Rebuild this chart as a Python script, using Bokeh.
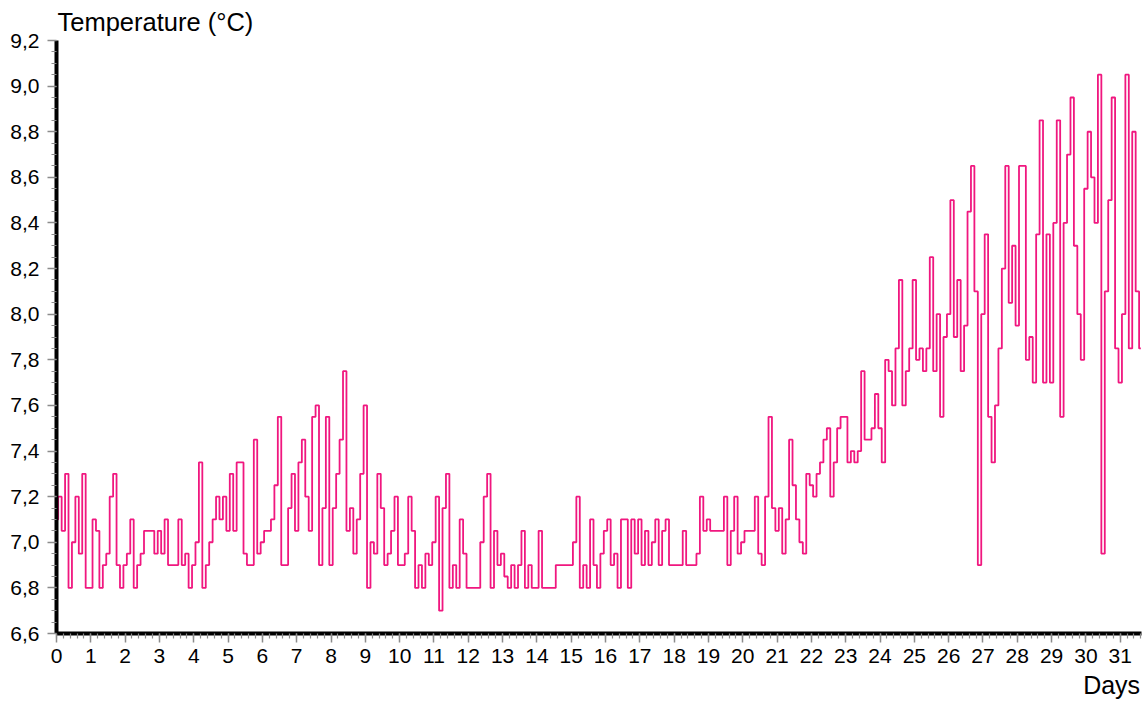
from bokeh.plotting import figure
from bokeh.models import FixedTicker, CustomJSTickFormatter, LinearAxis, Range1d
from bokeh.embed import file_html
from bokeh.resources import INLINE

STEPS_PER_DAY = 10

temps_days_00_07 = [
    7.1, 7.2, 7.05, 7.3, 6.8, 7.0, 7.2, 6.95, 7.3, 6.8,
    6.8, 7.1, 7.05, 6.8, 6.9, 6.95, 7.2, 7.3, 6.9, 6.8,
    6.9, 6.95, 7.1, 6.8, 6.9, 6.95, 7.05, 7.05, 7.05, 6.95,
    7.05, 6.95, 7.1, 6.9, 6.9, 6.9, 7.1, 6.9, 6.95, 6.8,
    6.9, 7.0, 7.35, 6.8, 6.9, 7.0, 7.1, 7.2, 7.1, 7.2,
    7.05, 7.3, 7.05, 7.35, 7.35, 6.95, 6.9, 6.9, 7.45, 6.95,
    7.0, 7.05, 7.05, 7.1, 7.25, 7.55, 6.9, 6.9, 7.15, 7.3,
    7.05, 7.35, 7.45, 7.2, 7.05, 7.55, 7.6, 6.9, 7.15, 7.55,
]
temps_days_08_15 = [
    6.9, 7.15, 7.3, 7.45, 7.75, 7.05, 7.15, 6.95, 7.1, 7.3,
    7.6, 6.8, 7.0, 6.95, 7.3, 7.15, 6.9, 6.95, 7.05, 7.2,
    6.9, 6.9, 6.95, 7.2, 7.05, 6.8, 6.9, 6.8, 6.95, 6.9,
    7.0, 7.2, 6.7, 7.15, 7.3, 6.8, 6.9, 6.8, 7.1, 6.95,
    6.8, 6.8, 6.8, 6.8, 7.0, 7.2, 7.3, 6.8, 7.05, 6.9,
    6.95, 6.85, 6.8, 6.9, 6.8, 6.9, 7.05, 6.8, 6.9, 6.8,
    6.8, 7.05, 6.8, 6.8, 6.8, 6.8, 6.9, 6.9, 6.9, 6.9,
    6.9, 7.0, 7.2, 6.8, 6.9, 6.8, 7.1, 6.9, 6.8, 6.95,
]
temps_days_16_23 = [
    7.05, 7.1, 6.9, 6.95, 6.8, 7.1, 7.1, 6.8, 7.1, 6.95,
    7.1, 6.9, 7.05, 6.9, 7.0, 7.1, 6.9, 7.05, 7.1, 6.9,
    6.9, 6.9, 6.9, 7.05, 6.9, 6.9, 6.9, 6.95, 7.2, 7.05,
    7.1, 7.05, 7.05, 7.05, 7.05, 7.2, 6.9, 7.05, 7.2, 6.95,
    7.0, 7.05, 7.05, 7.05, 7.2, 6.95, 6.9, 7.2, 7.55, 7.15,
    7.05, 7.15, 6.95, 7.1, 7.45, 7.25, 7.1, 7.0, 6.95, 7.3,
    7.25, 7.2, 7.3, 7.35, 7.45, 7.5, 7.2, 7.35, 7.5, 7.55,
    7.55, 7.35, 7.4, 7.35, 7.4, 7.75, 7.45, 7.45, 7.5, 7.65,
]
temps_days_24_31 = [
    7.5, 7.35, 7.8, 7.75, 7.6, 7.85, 8.15, 7.6, 7.75, 7.85,
    8.15, 7.8, 7.85, 7.75, 7.85, 8.25, 7.75, 8.0, 7.55, 7.9,
    8.0, 8.5, 7.9, 8.15, 7.75, 7.95, 8.45, 8.65, 8.1, 6.9,
    8.0, 8.35, 7.55, 7.35, 7.6, 7.85, 8.2, 8.65, 8.05, 8.3,
    7.95, 8.65, 8.65, 7.8, 7.9, 7.7, 8.35, 8.85, 7.7, 8.35,
    7.7, 8.4, 8.85, 7.55, 8.4, 8.7, 8.95, 8.3, 8.0, 7.8,
    8.55, 8.8, 8.6, 8.4, 9.05, 6.95, 8.1, 8.5, 8.95, 7.85,
    7.7, 8.0, 9.05, 7.85, 8.8, 8.1, 7.85,
]

temperature = temps_days_00_07 + temps_days_08_15 + temps_days_16_23 + temps_days_24_31
days = [i / STEPS_PER_DAY for i in range(len(temperature))]

y_ticks = [6.6, 6.8, 7.0, 7.2, 7.4, 7.6, 7.8, 8.0, 8.2, 8.4, 8.6, 8.8, 9.0, 9.2]
x_ticks = list(range(0, 32))
y_minor = [round(6.6 + 0.05 * i, 2) for i in range(53)]
x_minor = [round(0.2 * i, 1) for i in range(159)]

X_MAX = 31.62
Y_MIN, Y_MAX = 6.6, 9.2
DAYS_LABEL_AT = 30.75
FONT = "Liberation Sans"

p = figure(
    frame_width=1085, frame_height=593,
    x_range=Range1d(0, X_MAX), y_range=Range1d(Y_MIN, Y_MAX),
    output_backend="svg", toolbar_location=None,
    min_border_left=56, min_border_top=0, min_border_right=5, min_border_bottom=0,
)
p.outline_line_color = None
p.grid.visible = False
p.background_fill_color = "white"
p.border_fill_color = "white"

p.title.text = "Temperature (°C)"
p.title.align = "left"
p.title.offset = 1
p.title.standoff = 10
p.title.text_font = FONT
p.title.text_font_size = "25.5px"
p.title.text_font_style = "normal"
p.title.text_color = "black"

p.step(days, temperature, mode="center", line_color="#f0177f", line_width=1.8)

p.xaxis.ticker = FixedTicker(ticks=x_ticks, minor_ticks=x_minor)
p.yaxis.ticker = FixedTicker(ticks=y_ticks, minor_ticks=y_minor)
p.yaxis.formatter = CustomJSTickFormatter(code="return tick.toFixed(1).replace('.', ',');")

for ax in (p.xaxis[0], p.yaxis[0]):
    ax.axis_line_color = "black"
    ax.axis_line_width = 4
    ax.major_tick_line_color = "#8c8c8c"
    ax.minor_tick_line_color = "#8c8c8c"
    ax.major_tick_line_width = 1.5
    ax.minor_tick_line_width = 1.2
    ax.major_tick_in = 0
    ax.minor_tick_in = 0
    ax.major_tick_out = 9
    ax.minor_tick_out = 5
    ax.major_label_text_font = FONT
    ax.major_label_text_font_size = "21px"
    ax.major_label_text_color = "black"

p.xaxis.major_label_standoff = 6
p.yaxis.major_label_standoff = 8

# "Days" caption below the x axis, at the right end
days_axis = LinearAxis(
    ticker=FixedTicker(ticks=[DAYS_LABEL_AT]),
    formatter=CustomJSTickFormatter(code="return 'Days';"),
    axis_line_color=None, major_tick_line_color=None, minor_tick_line_color=None,
    major_tick_out=0, minor_tick_out=0, major_tick_in=0, minor_tick_in=0,
    major_label_standoff=5,
    major_label_text_font=FONT, major_label_text_font_size="25px",
    major_label_text_color="black",
)
p.add_layout(days_axis, "below")

open("out.html", "w").write(file_html(p, INLINE))
